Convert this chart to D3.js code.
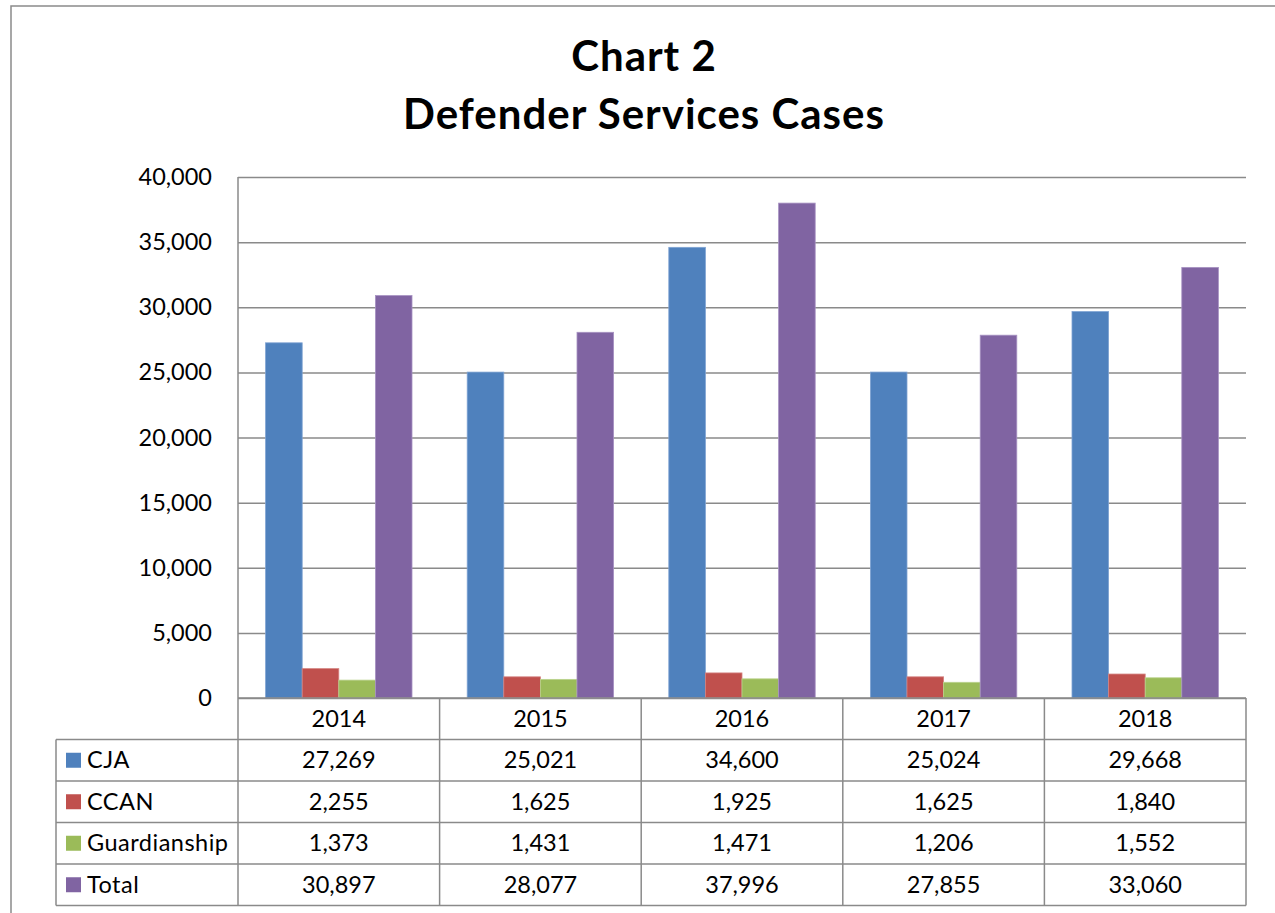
<!DOCTYPE html>
<html>
<head>
<meta charset="utf-8">
<script src="https://cdn.jsdelivr.net/npm/d3@7"></script>
<style>
  html, body { margin: 0; padding: 0; background: #fff; }
  svg { display: block; }
  text { font-family: Lato, "Open Sans", sans-serif; fill: #000; }
</style>
</head>
<body>
<svg id="chart" width="1275" height="913"></svg>
<script>
// Defender Services cases by fiscal year
const years = ["2014", "2015", "2016", "2017", "2018"];
const seriesNames = ["CJA", "CCAN", "Guardianship", "Total"];
const cja = [27269, 25021, 34600, 25024, 29668];
const ccan = [2255, 1625, 1925, 1625, 1840];
const guardianship = [1373, 1431, 1471, 1206, 1552];
const total = [30897, 28077, 37996, 27855, 33060];
const yTicks = [0, 5000, 10000, 15000, 20000, 25000, 30000, 35000, 40000];
const titleLines = ["Chart 2", "Defender Services Cases"];

const seriesValues = [cja, ccan, guardianship, total];
const colors = ["#4F81BD", "#C0504D", "#9BBB59", "#8064A2"];
const edgeColors = ["#7FA3D3", "#D48280", "#BAD38D", "#A792C2"];
const gridColor = "#8a8a8a";

const svg = d3.select("#chart");
const W = 1275, H = 913;

// plot frame
const plot = { left: 238, right: 1246, top: 177, bottom: 698 };
const rowH = 41.5;
const tableLeft = 56;

// outer chart border (only top and left fall inside the page)
svg.append("rect")
  .attr("x", 11).attr("y", 6)
  .attr("width", W + 20).attr("height", H + 20)
  .attr("fill", "#fff")
  .attr("stroke", gridColor).attr("stroke-width", 1.5);

// title
const title = svg.append("text")
  .attr("text-anchor", "middle")
  .attr("font-weight", "bold")
  .attr("font-size", 42)
  .attr("letter-spacing", 1);
title.selectAll("tspan").data(titleLines).join("tspan")
  .attr("x", 644)
  .attr("y", (d, i) => 71 + i * 58)
  .text(d => d);

// scales
const x = d3.scaleBand().domain(years).range([plot.left, plot.right]).padding(0);
const xs = d3.scaleBand().domain(seriesNames).range([0, x.bandwidth()])
  .paddingInner(0).paddingOuter(0.754);
const y = d3.scaleLinear().domain([0, 40000]).range([plot.bottom, plot.top]);

const fs = 23.5;

// y axis with gridlines
const yAxis = d3.axisLeft(y)
  .tickValues(yTicks)
  .tickFormat(d3.format(","))
  .tickSizeInner(-(plot.right - plot.left))
  .tickSizeOuter(0)
  .tickPadding(26);
const gy = svg.append("g")
  .attr("transform", `translate(${plot.left},0)`)
  .call(yAxis);
gy.select(".domain").remove();
gy.selectAll(".tick line").attr("stroke", gridColor).attr("stroke-width", 1.5);
gy.selectAll(".tick text")
  .attr("font-size", fs)
  .attr("font-family", "Lato, sans-serif")
  .attr("fill", "#000");

// bars
const barData = [];
years.forEach((yr, i) => {
  seriesNames.forEach((s, j) => {
    barData.push({ year: yr, series: s, value: seriesValues[j][i], k: j });
  });
});
svg.append("g").selectAll("rect").data(barData).join("rect")
  .attr("x", d => x(d.year) + xs(d.series))
  .attr("y", d => y(d.value))
  .attr("width", xs.bandwidth())
  .attr("height", d => y(0) - y(d.value))
  .attr("fill", d => colors[d.k])
  .attr("stroke", d => edgeColors[d.k])
  .attr("stroke-width", 0.8);

// data table
const tbl = svg.append("g").attr("stroke", gridColor).attr("stroke-width", 1.5);
const tableBottom = plot.bottom + rowH * (seriesNames.length + 1);
const firstRowTop = plot.bottom + rowH;

// horizontal lines
tbl.append("line")
  .attr("x1", plot.left).attr("x2", plot.right)
  .attr("y1", plot.bottom).attr("y2", plot.bottom);
d3.range(seriesNames.length + 1).forEach(r => {
  const yy = firstRowTop + r * rowH;
  tbl.append("line")
    .attr("x1", tableLeft).attr("x2", plot.right)
    .attr("y1", yy).attr("y2", yy);
});
// vertical lines
tbl.append("line")
  .attr("x1", plot.left).attr("x2", plot.left)
  .attr("y1", plot.top).attr("y2", tableBottom);
years.forEach(yr => {
  const xx = x(yr) + x.bandwidth();
  tbl.append("line")
    .attr("x1", xx).attr("x2", xx)
    .attr("y1", plot.bottom).attr("y2", tableBottom);
});
tbl.append("line")
  .attr("x1", tableLeft).attr("x2", tableLeft)
  .attr("y1", firstRowTop).attr("y2", tableBottom);

// header years
svg.append("g").selectAll("text").data(years).join("text")
  .attr("x", d => x(d) + x.bandwidth() / 2)
  .attr("y", plot.bottom + rowH / 2)
  .attr("dy", "0.35em")
  .attr("text-anchor", "middle")
  .attr("font-size", fs)
  .text(d => d);

// legend keys and series names
const rows = svg.append("g").selectAll("g").data(seriesNames).join("g")
  .attr("transform", (d, i) => `translate(0,${firstRowTop + i * rowH + rowH / 2})`);
rows.append("rect")
  .attr("x", 66).attr("y", -7.5)
  .attr("width", 15).attr("height", 15)
  .attr("fill", (d, i) => colors[i]);
rows.append("text")
  .attr("x", 87).attr("dy", "0.35em")
  .attr("font-size", fs)
  .attr("letter-spacing", 0.5)
  .text(d => d);
const fmt = d3.format(",");
rows.each(function (s, j) {
  d3.select(this).selectAll("text.val").data(seriesValues[j]).join("text")
    .attr("class", "val")
    .attr("x", (d, i) => x(years[i]) + x.bandwidth() / 2)
    .attr("dy", "0.35em")
    .attr("text-anchor", "middle")
    .attr("font-size", fs)
    .text(d => fmt(d));
});
</script>
</body>
</html>
